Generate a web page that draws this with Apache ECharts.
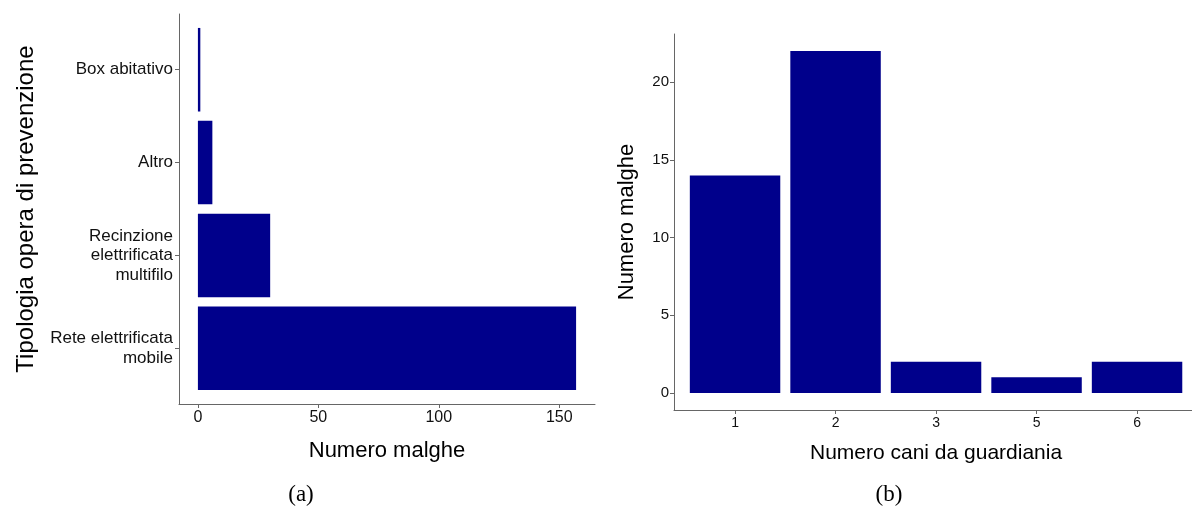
<!DOCTYPE html>
<html>
<head>
<meta charset="utf-8">
<script src="https://cdn.jsdelivr.net/npm/echarts@6/dist/echarts.min.js"></script>
<style>
  html, body { margin: 0; padding: 0; background: #fff; }
  #chart { width: 1192px; height: 506px; }
</style>
</head>
<body>
<div id="chart"></div>
<script>
// (a) tipologia opera di prevenzione
const opereCategories = ['Rete elettrificata\nmobile', 'Recinzione\nelettrificata\nmultifilo', 'Altro', 'Box abitativo'];
const opereValues = [157, 30, 6, 1];
const opereTicks = [0, 50, 100, 150];

// (b) numero cani da guardiania
const caniCategories = ['1', '2', '3', '5', '6'];
const caniValues = [14, 22, 2, 1, 2];
const caniTicks = [0, 5, 10, 15, 20];

const barColor = '#00008B';
const lineColor = '#666666';
const fontFamily = '"Liberation Sans", Arial, sans-serif';

const chart = echarts.init(document.getElementById('chart'));

// axis that only draws its line (used for the plot frames)
const frameAxis = (gridIndex) => ({
    gridIndex: gridIndex,
    type: 'value',
    min: 0,
    max: 1,
    axisLine: { show: true, onZero: false, lineStyle: { color: lineColor, width: 1 } },
    axisTick: { show: false },
    axisLabel: { show: false },
    splitLine: { show: false }
});

const options = {
    animation: false,
    backgroundColor: '#fff',
    textStyle: { fontFamily: fontFamily },
    grid: [
        // frames (axis lines only)
        { left: 179, top: 14, width: 416, height: 390 },
        { left: 674, top: 34, width: 523, height: 376 },
        // data grids, inset by the ggplot discrete expansion
        { left: 179, top: 23.3, width: 416, height: 371.4 },
        { left: 684.8, top: 34, width: 502.5, height: 376 }
    ],
    xAxis: [
        frameAxis(0),
        frameAxis(1),
        {
            gridIndex: 2,
            type: 'value',
            min: -7.85,
            max: 164.85,
            offset: 9.3,
            axisLine: { show: false, onZero: false },
            axisTick: { show: true, length: 4, customValues: opereTicks, lineStyle: { color: lineColor } },
            axisLabel: { customValues: opereTicks, color: '#111', fontSize: 16, margin: 6 },
            splitLine: { show: false },
            name: 'Numero malghe',
            nameLocation: 'middle',
            nameGap: 36,
            nameTextStyle: { fontSize: 22, color: '#000' }
        },
        {
            gridIndex: 3,
            type: 'category',
            data: caniCategories,
            axisLine: { show: false, onZero: false },
            axisTick: { show: true, length: 4, alignWithLabel: true, lineStyle: { color: lineColor } },
            axisLabel: { color: '#111', fontSize: 14, margin: 6 },
            name: 'Numero cani da guardiania',
            nameLocation: 'middle',
            nameGap: 33,
            nameTextStyle: { fontSize: 21, color: '#000' }
        }
    ],
    yAxis: [
        frameAxis(0),
        frameAxis(1),
        {
            gridIndex: 2,
            type: 'category',
            data: opereCategories,
            axisLine: { show: false, onZero: false },
            axisTick: { show: true, length: 4, alignWithLabel: true, lineStyle: { color: lineColor } },
            axisLabel: { color: '#111', fontSize: 17, margin: 6, lineHeight: 19.5, align: 'right', padding: [4, 0, 0, 0] },
            name: 'Tipologia opera di prevenzione',
            nameLocation: 'middle',
            nameGap: 141,
            nameTextStyle: { fontSize: 24, color: '#000' }
        },
        {
            gridIndex: 3,
            type: 'value',
            min: -1.1,
            max: 23.1,
            offset: 10.8,
            axisLine: { show: false, onZero: false },
            axisTick: { show: true, length: 4, customValues: caniTicks, lineStyle: { color: lineColor } },
            axisLabel: { customValues: caniTicks, color: '#111', fontSize: 15, margin: 5 },
            splitLine: { show: false },
            name: 'Numero malghe',
            nameLocation: 'middle',
            nameGap: 36,
            nameTextStyle: { fontSize: 22, color: '#000' }
        }
    ],
    series: [
        {
            type: 'bar',
            xAxisIndex: 2,
            yAxisIndex: 2,
            data: opereValues,
            barCategoryGap: '10%',
            itemStyle: { color: barColor }
        },
        {
            type: 'bar',
            xAxisIndex: 3,
            yAxisIndex: 3,
            data: caniValues,
            barCategoryGap: '10%',
            itemStyle: { color: barColor }
        }
    ],
    graphic: [
        { type: 'text', x: 301, y: 495, style: { text: '(a)', align: 'center', verticalAlign: 'middle', font: '23px "Liberation Serif", serif', fill: '#000' } },
        { type: 'text', x: 889, y: 495, style: { text: '(b)', align: 'center', verticalAlign: 'middle', font: '23px "Liberation Serif", serif', fill: '#000' } }
    ]
};

chart.setOption(options);
</script>
</body>
</html>
